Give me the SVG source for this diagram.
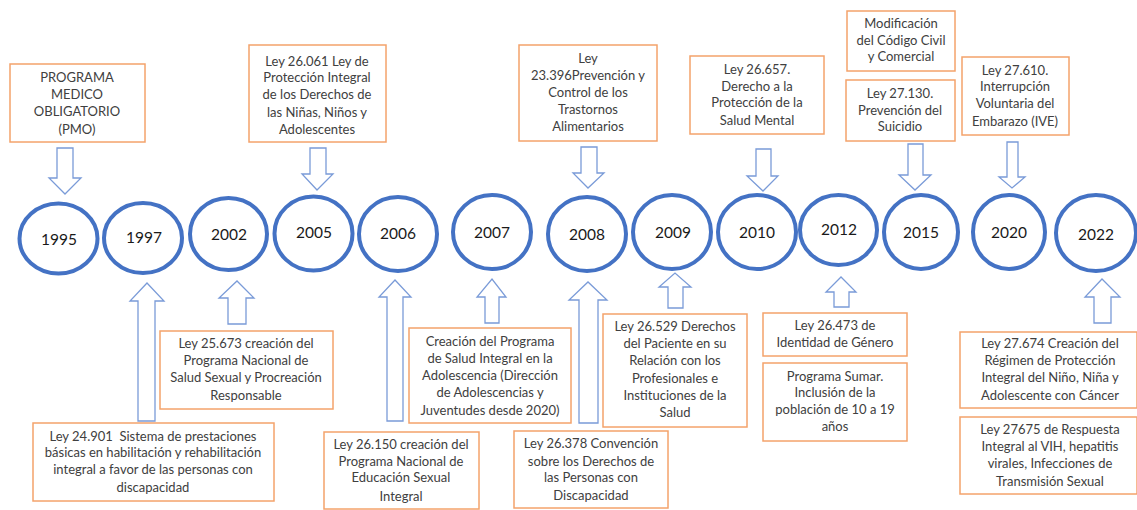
<svg xmlns="http://www.w3.org/2000/svg" width="1137" height="510" viewBox="0 0 1137 510">
<style>
.box{fill:#fff;stroke:#F4A36B;stroke-width:1.5}
.t{font-family:Lato,"Liberation Sans",sans-serif;font-size:13px;fill:#404040;text-anchor:middle}
.yr{fill:#fff;stroke:#4472C4;stroke-width:4}
.y{font-family:Lato,"Liberation Sans",sans-serif;font-size:15.5px;fill:#1a1a1a;text-anchor:middle}
.arr{fill:#fff;stroke:#7A9BD8;stroke-width:1.3;stroke-linejoin:miter}
</style>
<rect width="1137" height="510" fill="#fff"/>
<g id="connectors">
<path class="arr" d="M57,148 L73,148 L73,178 L81,178 L65,194 L49,178 L57,178 Z"/>
<path class="arr" d="M310,148 L326,148 L326,174 L333,174 L317,190 L302,174 L310,174 Z"/>
<path class="arr" d="M581,147 L597,147 L597,173 L604,173 L588,188 L573,173 L581,173 Z"/>
<path class="arr" d="M756,149 L771,149 L771,176 L778,176 L763,191 L747,176 L756,176 Z"/>
<path class="arr" d="M908,144 L923,144 L923,175 L931,175 L915,190 L899,175 L908,175 Z"/>
<path class="arr" d="M1007,142 L1018,142 L1018,177 L1025,177 L1012,188 L999,177 L1007,177 Z"/>
<path class="arr" d="M138,421 L155,421 L155,301 L164,301 L147,283 L130,301 L138,301 Z"/>
<path class="arr" d="M228,324 L246,324 L246,298 L254,298 L237,281 L219,298 L228,298 Z"/>
<path class="arr" d="M387,421 L403,421 L403,297 L411,297 L395,280 L379,297 L387,297 Z"/>
<path class="arr" d="M485,323 L499,323 L499,297 L506,297 L492,279 L477,297 L485,297 Z"/>
<path class="arr" d="M579,423 L598,423 L598,300 L607,300 L588,282 L569,300 L579,300 Z"/>
<path class="arr" d="M668,308 L683,308 L683,287 L691,287 L675,273 L659,287 L668,287 Z"/>
<path class="arr" d="M834,307 L849,307 L849,292 L856,292 L841,277 L826,292 L834,292 Z"/>
<path class="arr" d="M1094,323 L1111,323 L1111,297 L1120,297 L1102,279 L1085,297 L1094,297 Z"/>
</g>
<g id="y1995"><ellipse class="yr" cx="58.5" cy="238.5" rx="39" ry="35"/><text class="y" x="59" y="245">1995</text></g>
<g id="y1997"><ellipse class="yr" cx="143" cy="238" rx="39" ry="35"/><text class="y" x="144" y="243">1997</text></g>
<g id="y2002"><ellipse class="yr" cx="228.5" cy="234" rx="38.5" ry="36"/><text class="y" x="229" y="240">2002</text></g>
<g id="y2005"><ellipse class="yr" cx="313.5" cy="233.5" rx="39" ry="37"/><text class="y" x="314" y="238">2005</text></g>
<g id="y2006"><ellipse class="yr" cx="398" cy="234" rx="39" ry="37"/><text class="y" x="398" y="239">2006</text></g>
<g id="y2007"><ellipse class="yr" cx="492" cy="232" rx="39" ry="37"/><text class="y" x="492" y="238">2007</text></g>
<g id="y2008"><ellipse class="yr" cx="587" cy="234" rx="39" ry="37"/><text class="y" x="587" y="240">2008</text></g>
<g id="y2009"><ellipse class="yr" cx="672" cy="232" rx="39" ry="37"/><text class="y" x="673" y="238">2009</text></g>
<g id="y2010"><ellipse class="yr" cx="757" cy="232" rx="39" ry="37"/><text class="y" x="757" y="238">2010</text></g>
<g id="y2012"><ellipse class="yr" cx="838.5" cy="230" rx="38.5" ry="35"/><text class="y" x="839" y="235">2012</text></g>
<g id="y2015"><ellipse class="yr" cx="921" cy="232" rx="37" ry="37"/><text class="y" x="921" y="238">2015</text></g>
<g id="y2020"><ellipse class="yr" cx="1009" cy="232" rx="36" ry="37"/><text class="y" x="1009" y="238">2020</text></g>
<g id="y2022"><ellipse class="yr" cx="1096" cy="233" rx="40" ry="38"/><text class="y" x="1096" y="240">2022</text></g>
<g id="pmo"><rect class="box" x="10" y="64" width="135" height="78"/>
<text class="t"><tspan x="77" y="82">PROGRAMA</tspan><tspan x="77" y="99">MEDICO</tspan><tspan x="77" y="116">OBLIGATORIO</tspan><tspan x="77" y="134">(PMO)</tspan></text></g>
<g id="ley26061"><rect class="box" x="249" y="45" width="137" height="97"/>
<text class="t"><tspan x="317" y="66">Ley 26.061 Ley de</tspan><tspan x="317" y="82">Protección Integral</tspan><tspan x="317" y="99">de los Derechos de</tspan><tspan x="317" y="117">las Niñas, Niños y</tspan><tspan x="317" y="134">Adolescentes</tspan></text></g>
<g id="ley23396"><rect class="box" x="519" y="45" width="138" height="96"/>
<text class="t"><tspan x="588" y="63">Ley</tspan><tspan x="588" y="80">23.396Prevención y</tspan><tspan x="588" y="97">Control de los</tspan><tspan x="588" y="114">Trastornos</tspan><tspan x="588" y="131">Alimentarios</tspan></text></g>
<g id="ley26657"><rect class="box" x="690" y="56" width="134" height="78"/>
<text class="t"><tspan x="757" y="74">Ley 26.657.</tspan><tspan x="757" y="91">Derecho a la</tspan><tspan x="757" y="107">Protección de la</tspan><tspan x="757" y="125">Salud Mental</tspan></text></g>
<g id="codigo"><rect class="box" x="847" y="11" width="108" height="60"/>
<text class="t"><tspan x="901" y="28">Modificación</tspan><tspan x="901" y="45">del Código Civil</tspan><tspan x="901" y="61">y Comercial</tspan></text></g>
<g id="ley27130"><rect class="box" x="846" y="80" width="109" height="61"/>
<text class="t"><tspan x="900" y="98">Ley 27.130.</tspan><tspan x="900" y="115">Prevención del</tspan><tspan x="900" y="131">Suicidio</tspan></text></g>
<g id="ley27610"><rect class="box" x="962" y="57" width="107" height="78"/>
<text class="t"><tspan x="1015" y="75">Ley 27.610.</tspan><tspan x="1015" y="91">Interrupción</tspan><tspan x="1015" y="108">Voluntaria del</tspan><tspan x="1015" y="126">Embarazo (IVE)</tspan></text></g>
<g id="ley25673"><rect class="box" x="160" y="331" width="173" height="78"/>
<text class="t"><tspan x="246" y="348">Ley 25.673 creación del</tspan><tspan x="246" y="365">Programa Nacional de</tspan><tspan x="246" y="382">Salud Sexual y Procreación</tspan><tspan x="246" y="400">Responsable</tspan></text></g>
<g id="ley24901"><rect class="box" x="33" y="423" width="241" height="78"/>
<text class="t"><tspan x="153" y="441" style="white-space:pre">Ley 24.901  Sistema de prestaciones</tspan><tspan x="153" y="457">básicas en habilitación y rehabilitación</tspan><tspan x="153" y="474">integral a favor de las personas con</tspan><tspan x="153" y="492">discapacidad</tspan></text></g>
<g id="ley26150"><rect class="box" x="324" y="432" width="155" height="77"/>
<text class="t"><tspan x="401" y="449">Ley 26.150 creación del</tspan><tspan x="401" y="466">Programa Nacional de</tspan><tspan x="401" y="482">Educación Sexual</tspan><tspan x="401" y="501">Integral</tspan></text></g>
<g id="saludadol"><rect class="box" x="409" y="328" width="162" height="95"/>
<text class="t"><tspan x="490" y="346">Creación del Programa</tspan><tspan x="490" y="363">de Salud Integral en la</tspan><tspan x="490" y="380">Adolescencia (Dirección</tspan><tspan x="490" y="397">de Adolescencias y</tspan><tspan x="490" y="415">Juventudes desde 2020)</tspan></text></g>
<g id="ley26378"><rect class="box" x="514" y="431" width="154" height="77"/>
<text class="t"><tspan x="591" y="448">Ley 26.378 Convención</tspan><tspan x="591" y="466">sobre los Derechos de</tspan><tspan x="591" y="482">las Personas con</tspan><tspan x="591" y="500">Discapacidad</tspan></text></g>
<g id="ley26529"><rect class="box" x="603" y="314" width="144" height="113"/>
<text class="t"><tspan x="675" y="331">Ley 26.529 Derechos</tspan><tspan x="675" y="348">del Paciente en su</tspan><tspan x="675" y="365">Relación con los</tspan><tspan x="675" y="383">Profesionales e</tspan><tspan x="675" y="400">Instituciones de la</tspan><tspan x="675" y="417">Salud</tspan></text></g>
<g id="ley26473"><rect class="box" x="763" y="313" width="144" height="43"/>
<text class="t"><tspan x="835" y="330">Ley 26.473 de</tspan><tspan x="835" y="347">Identidad de Género</tspan></text></g>
<g id="sumar"><rect class="box" x="763" y="363" width="144" height="78"/>
<text class="t"><tspan x="835" y="381">Programa Sumar.</tspan><tspan x="835" y="397">Inclusión de la</tspan><tspan x="835" y="414">población de 10 a 19</tspan><tspan x="835" y="431">años</tspan></text></g>
<g id="ley27674"><rect class="box" x="960" y="332" width="177" height="76"/>
<text class="t"><tspan x="1050" y="348">Ley 27.674 Creación del</tspan><tspan x="1050" y="365">Régimen de Protección</tspan><tspan x="1050" y="382">Integral del Niño, Niña y</tspan><tspan x="1050" y="400">Adolescente con Cáncer</tspan></text></g>
<g id="ley27675"><rect class="box" x="960" y="417" width="177" height="77"/>
<text class="t"><tspan x="1050" y="434">Ley 27675 de Respuesta</tspan><tspan x="1050" y="451">Integral al VIH, hepatitis</tspan><tspan x="1050" y="468">virales, Infecciones de</tspan><tspan x="1050" y="486">Transmisión Sexual</tspan></text></g>
</svg>
